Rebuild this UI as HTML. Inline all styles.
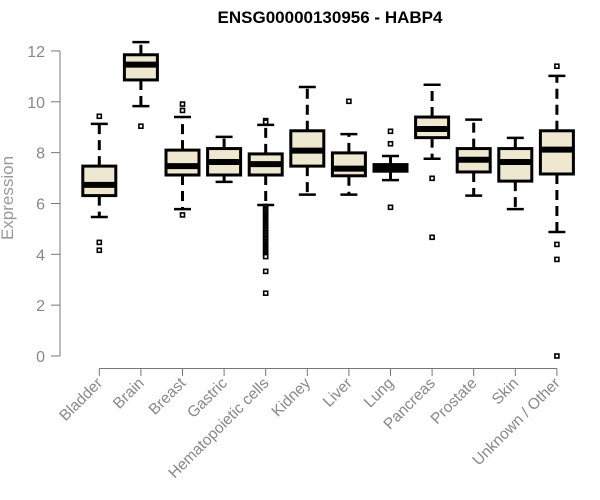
<!DOCTYPE html>
<html><head><meta charset="utf-8"><style>
body{margin:0;background:#fff;}
svg{display:block;font-family:"Liberation Sans",Arial,sans-serif;}
</style></head><body>
<svg id="chart" width="600" height="500">
<text x="330" y="23" text-anchor="middle" font-weight="bold" font-size="17" fill="#000">ENSG00000130956 - HABP4</text>
<text transform="translate(13,198) rotate(-90)" text-anchor="middle" font-size="17" fill="#999">Expression</text>
<g id="yaxis"></g>
<g id="xaxis"></g>
<g id="boxes"></g>
</svg>
<script>
const categories=["Bladder","Brain","Breast","Gastric","Hematopoietic cells","Kidney","Liver","Lung","Pancreas","Prostate","Skin","Unknown / Other"];
const whiskerLow=[5.47,9.83,5.78,6.85,5.94,6.35,6.35,6.92,7.76,6.31,5.78,4.88];
const q1=[6.31,10.86,7.12,7.12,7.12,7.47,7.09,7.27,8.59,7.24,6.88,7.16];
const median=[6.73,11.46,7.47,7.63,7.55,8.08,7.37,7.40,8.93,7.72,7.63,8.12];
const q3=[7.47,11.85,8.10,8.16,7.95,8.86,7.99,7.53,9.40,8.16,8.16,8.86];
const whiskerHigh=[9.13,12.35,9.40,8.62,9.09,10.58,8.73,7.87,10.67,9.30,8.58,11.02];
const outliers=[[9.43,4.47,4.16],[9.04],[9.91,9.66,5.55],[],[9.26,9.2,5.88,5.82,5.76,5.7,5.64,5.58,5.52,5.46,5.4,5.34,5.28,5.22,5.16,5.1,5.04,4.98,4.92,4.86,4.8,4.74,4.68,4.62,4.56,4.5,4.44,4.38,4.32,4.26,4.2,4.14,4.08,4.02,3.96,3.91,3.33,2.47],[],[10.02],[8.84,8.35,5.85],[6.99,4.67],[],[],[11.40,4.39,3.80,0.0]];
const yTicks=[0,2,4,6,8,10,12];

const NS="http://www.w3.org/2000/svg";
const yS=v=>356-v*25.42;
const xS=i=>99.3+i*41.6;
function mk(parent,tag,attrs){const e=document.createElementNS(NS,tag);for(const k in attrs)e.setAttribute(k,attrs[k]);parent.appendChild(e);return e;}
const ya=document.getElementById('yaxis');
mk(ya,'line',{x1:60,x2:60,y1:yS(0),y2:yS(12),stroke:'#777','stroke-width':1});
yTicks.forEach(t=>{
  const l=mk(ya,'line',{x1:51,x2:60,y1:yS(t),y2:yS(t),stroke:'#777'});
  
  
  const tx=mk(ya,'text',{x:45,y:yS(t)+6,'text-anchor':'end','font-size':16,fill:'#888'});
  tx.textContent=t;
  
  
});
const xa=document.getElementById('xaxis');
mk(xa,'line',{x1:xS(0),x2:xS(categories.length-1),y1:368.5,y2:368.5,stroke:'#777'});
categories.forEach((c,i)=>{
  const l=mk(xa,'line',{x1:xS(i),x2:xS(i),y1:368.5,y2:376,stroke:'#777'});
  
  
  const tx=mk(xa,'text',{transform:`translate(${xS(i)+4},${384}) rotate(-45)`,'text-anchor':'end','font-size':15.5,fill:'#888'});
  tx.textContent=c;
  
  
});
const bx=document.getElementById('boxes');
categories.forEach((c,i)=>{
  const x=xS(i),w=33;
  const g=mk(bx,'g',{});
  
  
  mk(g,'line',{x1:x,x2:x,y1:yS(q3[i]),y2:yS(whiskerHigh[i]),stroke:'#000','stroke-width':3,'stroke-dasharray':'10,6'});
  mk(g,'line',{x1:x,x2:x,y1:yS(q1[i]),y2:yS(whiskerLow[i]),stroke:'#000','stroke-width':3,'stroke-dasharray':'10,6'});
  mk(g,'line',{x1:x-8.5,x2:x+8.5,y1:yS(whiskerHigh[i]),y2:yS(whiskerHigh[i]),stroke:'#000','stroke-width':2.5});
  mk(g,'line',{x1:x-8.5,x2:x+8.5,y1:yS(whiskerLow[i]),y2:yS(whiskerLow[i]),stroke:'#000','stroke-width':2.5});
  mk(g,'rect',{x:x-w/2,y:yS(q3[i]),width:w,height:yS(q1[i])-yS(q3[i]),fill:'#ede8cf',stroke:'#000','stroke-width':3});
  mk(g,'line',{x1:x-w/2,x2:x+w/2,y1:yS(median[i]),y2:yS(median[i]),stroke:'#000','stroke-width':6});
  outliers[i].forEach(v=>{
    const o=mk(g,'rect',{x:x-2,y:yS(v)-2,width:4,height:4,fill:'#fff',stroke:'#000','stroke-width':1.6});
    
    
  });
});
</script>
</body></html>
